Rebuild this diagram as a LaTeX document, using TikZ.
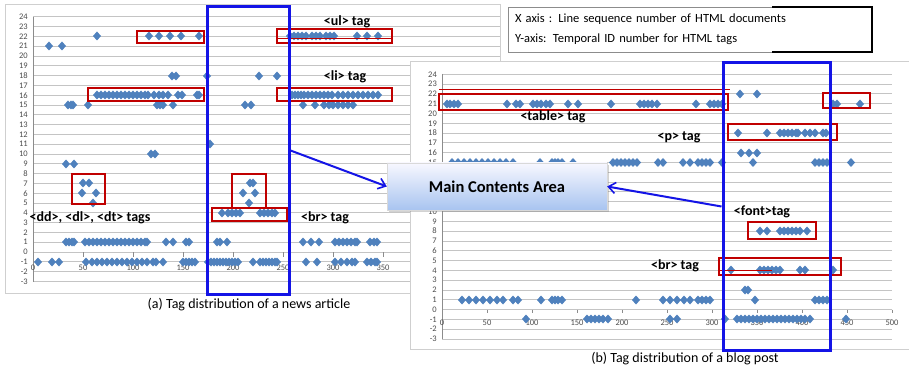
\documentclass[tikz,border=0pt]{standalone}
\usepackage{fontspec}
\setmainfont{Carlito}
\usetikzlibrary{arrows.meta,shadows}

\definecolor{ptcol}{HTML}{4F81BD}
\definecolor{gridcol}{HTML}{C4C4C4}
\definecolor{redbox}{HTML}{C00000}
\definecolor{bluebox}{HTML}{1414E6}
\definecolor{framecol}{HTML}{CFCFCF}
\definecolor{axiscol}{HTML}{8C8C8C}

\tikzset{
  gridline/.style={gridcol, line width=0.8pt},
  axisline/.style={axiscol, line width=0.8pt},
  chartframe/.style={draw=framecol, fill=white, line width=1pt},
  redrect/.style={draw=redbox, line width=1.6pt},
  redthin/.style={draw=redbox, line width=0.8pt},
  bluerect/.style={draw=bluebox, line width=3pt, inner sep=0pt, fill=none},
  taglabel/.style={font=\bfseries\fontsize{14}{14}\selectfont, inner sep=0pt},
  ticklab/.style={font=\fontsize{8.5}{8.5}\selectfont, text=black!70, inner sep=0pt},
  caption/.style={font=\fontsize{14}{14}\selectfont, inner sep=0pt},
  legendbox/.style={draw=black!45, line width=0.8pt, fill=white, minimum width=364pt,
    minimum height=45pt, text width=350pt, align=left, inner sep=7pt,
    font=\fontsize{12.5}{20}\selectfont},
  mainbox/.style={minimum width=220pt, minimum height=47pt, draw=black!15,
    top color=blue!3, bottom color={rgb,255:red,168;green,196;blue,240},
    drop shadow={shadow xshift=2pt, shadow yshift=-2pt, opacity=0.35},
    font=\bfseries\fontsize{16.5}{16.5}\selectfont},
  flowarrow/.style={draw=bluebox, line width=2pt,
    -{Straight Barb[length=7pt, width=11pt, line width=1.6pt]}},
}

% one row of diamond markers: #1 = vertical position, #2 = list of horizontal positions
\newcommand\prow[2]{\foreach \px in {#2}{%
  \fill[ptcol] (\px,#1) +(0,-4.5) -- +(4,0) -- +(0,4.5) -- +(-4,0) -- cycle;}}

\begin{document}
\begin{tikzpicture}[x=1pt, y=-1pt]
\useasboundingbox (0,0) rectangle (909,371);

% ---------------- chart (a): news article ----------------
\draw[chartframe] (5,5) rectangle (500,293);
\foreach \v in {-3,...,24}{
  \draw[gridline] (33,{252-9.8*\v}) -- (500,{252-9.8*\v});
  \node[ticklab, anchor=east] (ya\v) at (28,{252-9.8*\v}) {\v};
}
\draw[axisline] (33,17) -- (33,282);
\foreach \v in {0,50,...,350}{
  \draw[axisline] ({33+\v},252) -- ({33+\v},257);
  \node[ticklab] (xa\v) at ({33+\v},268) {\v};
}

\prow{36}{97,149,159,170,181,199,290,294,298,302,306,312,316,320,326,330,334,357,367,378}
\prow{46}{49,62}
\prow{76}{172,176,207,259,277}
\prow{95}{97,101,105,109,113,117,121,125,129,133,137,141,145,148,154,159,163,168,178,182,197,199,
  292,295,298,301,304,308,312,316,320,324,328,332,338,343,348,353,358,363,368,373,378}
\prow{105}{68,71,73,88,157,160,163,173,245,251,303,315,324,329,333,338,343,348,353}
\prow{144}{210}
\prow{154}{151,155}
\prow{164}{66,74}
\prow{183}{83,89,250,253}
\prow{193}{82,96,243,255}
\prow{203}{93,249}
\prow{213}{222,228,232,236,240,260,264,268,272,275}
\prow{242}{66,69,72,74,85,89,93,97,101,105,109,113,117,121,125,129,133,137,141,145,147,
  166,173,186,189,217,220,227,303,311,319,335,339,343,347,351,355,357,370,374,377}
\prow{262}{38,52,59,86,92,97,102,107,112,117,122,127,132,137,142,147,153,156,163,
  183,186,189,192,195,208,211,214,217,220,223,226,229,232,235,238,253,
  260,263,266,269,272,275,277,306,317,335,341,347,352,355,367,371,375,377}

\draw[redrect] (137,31) rectangle (204,43);
\draw[redrect] (88,88) rectangle (204,101);
\draw[redrect] (277,29) rectangle (392,43);
\draw[redthin] (277,38) -- (392,38);
\draw[redrect] (277,88) rectangle (392,101);
\draw[redrect] (72,174) rectangle (105,204);
\draw[redrect] (232,174) rectangle (266,208);
\draw[redrect] (212,208) rectangle (287,221);

\node[taglabel] (ulA) at (347,22) {<ul> tag};
\node[taglabel] (liA) at (345,77) {<li> tag};
\node[taglabel] (ddA) at (90,218) {<dd>, <dl>, <dt> tags};
\node[taglabel] (brA) at (325,218) {<br> tag};

\node[bluerect, minimum width=82pt, minimum height=287pt] (areaA) at (248,150.5) {};
\node[caption] (capA) at (249,305) {(a) Tag distribution of a news article};

% ---------------- chart (b): blog post ----------------
\draw[chartframe] (410,62) rectangle (915,349);
\foreach \v in {-3,...,24}{
  \draw[gridline] (442,{309.5-9.8*\v}) -- (892,{309.5-9.8*\v});
}
% tick values 11-14 sit beneath the "Main Contents Area" box
\foreach \v in {-3,...,10,15,16,...,24}{
  \node[ticklab, anchor=east] (yb\v) at (437,{309.5-9.8*\v}) {\v};
}
\draw[axisline] (442,74) -- (442,339);
\foreach \v in {0,50,...,500}{
  \draw[axisline] ({442+0.9*\v},309.5) -- ({442+0.9*\v},313);
  \node[ticklab] (xb\v) at ({442+0.9*\v},323) {\v};
}

\prow{94}{740,757}
\prow{104}{447,450,454,458,507,516,520,533,537,541,546,550,568,578,611,640,644,648,652,657,696,
  710,714,718,722,833,837,860}
\prow{133}{738,767,780,784,788,792,796,798,805,810,815,823,826}
\prow{153}{741,749,757}
\prow{162.5}{452,458,464,470,476,482,488,494,500,506,513,540,552,555,558,562,573,
  613,617,621,625,629,633,637,658,663,683,690,698,702,706,710,722,753,815,819,823,827,851}
\prow{231}{760,767,780,784,788,792,796,800,807}
\prow{270}{731,760,764,768,772,776,780,800,805,833}
\prow{290}{745,748}
\prow{300}{462,469,476,483,490,497,503,513,518,541,552,555,558,562,636,663,670,677,684,690,
  698,702,706,710,755,815,819,823,827}
\prow{319}{526,587,591,595,599,603,608,670,677,725,737,741,745,749,753,757,761,765,769,773,
  777,781,785,789,793,797,801,805,810,846}

\draw[redthin] (439,89) -- (730,89);
\draw[redrect] (439,94) rectangle (728,110);
\draw[redrect] (823,93) rectangle (870,108);
\draw[redrect] (728,124) rectangle (837,140);
\draw[redrect] (748,222) rectangle (816,239);
\draw[redrect] (719,258) rectangle (841,275);
\draw[redthin] (719,270) -- (772,270);

\node[taglabel] (tableB) at (553,117) {<table> tag};
\node[taglabel] (pB) at (679,137) {<p> tag};
\node[taglabel] (fontB) at (762,212) {<font>tag};
\node[taglabel] (brB) at (675,266) {<br> tag};

\node[bluerect, minimum width=107pt, minimum height=287pt] (areaB) at (776.5,206.5) {};
\node[caption] (capB) at (685,359) {(b) Tag distribution of a blog post};

% ---------------- legend ----------------
\node[legendbox] (legend) at (690,29.5)
  {X axis : Line sequence number of HTML documents\\Y-axis: Temporal ID number for HTML tags};
\draw[black, line width=1.6pt] (772,7) -- (872,7) -- (872,52) -- (772,52);

% ---------------- main contents area ----------------
\node[mainbox] (main) at (497,186.5) {Main Contents Area};
\draw[flowarrow] (areaA.east) -- (main.west);
\draw[flowarrow] (areaB.west) -- (main.east);

\end{tikzpicture}
\end{document}
